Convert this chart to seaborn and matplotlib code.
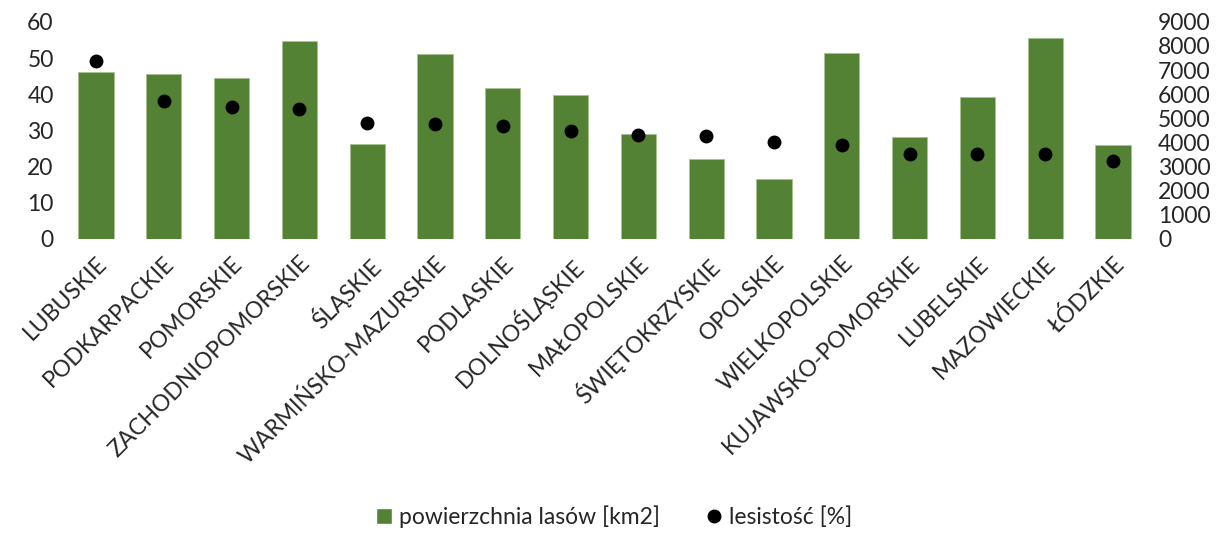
import pandas as pd
import matplotlib
matplotlib.use("Agg")
import matplotlib.pyplot as plt
from matplotlib.lines import Line2D
from matplotlib.patches import Patch
import seaborn as sns

# dane
wojewodztwa = ["LUBUSKIE", "PODKARPACKIE", "POMORSKIE", "ZACHODNIOPOMORSKIE", "ŚLĄSKIE",
               "WARMIŃSKO-MAZURSKIE", "PODLASKIE", "DOLNOŚLĄSKIE", "MAŁOPOLSKIE",
               "ŚWIĘTOKRZYSKIE", "OPOLSKIE", "WIELKOPOLSKIE", "KUJAWSKO-POMORSKIE",
               "LUBELSKIE", "MAZOWIECKIE", "ŁÓDZKIE"]
powierzchnia = [6920, 6820, 6670, 8190, 3950, 7680, 6240, 5950,
                4330, 3300, 2500, 7700, 4220, 5880, 8340, 3890]
lesistosc = [49.3, 38.2, 36.4, 35.8, 32.0, 31.7, 31.1, 29.9,
             28.6, 28.3, 26.7, 25.9, 23.5, 23.4, 23.4, 21.4]

df = pd.DataFrame({"woj": wojewodztwa, "pow": powierzchnia, "les": lesistosc})

sns.set_style("white")
plt.rcParams["font.family"] = ["Lato", "DejaVu Sans"]

green = "#548235"

fig = plt.figure(figsize=(12.28, 5.33), dpi=100)
ax = fig.add_axes([0.0505, 0.552, 0.8835, 0.407])
sns.barplot(data=df, x="woj", y="pow", color=green, width=0.52, ax=ax,
            edgecolor="#a9c18f", linewidth=0.6, saturation=1)
ax.set_ylim(0, 9000)
ax.set_yticks(range(0, 9001, 1000))

ax2 = ax.twinx()
sns.stripplot(data=df, x="woj", y="les", jitter=False, color="black", size=10, ax=ax2)
ax2.set_ylim(0, 60)
ax2.set_yticks(range(0, 61, 10))

# paski na prawej osi, punkty na lewej
ax.yaxis.tick_right()
ax2.yaxis.tick_left()

for a in (ax, ax2):
    for s in a.spines.values():
        s.set_visible(False)
    a.set_xlabel("")
    a.set_ylabel("")
    a.tick_params(length=0, labelsize=16.5, pad=6)

ax.tick_params(axis="y", pad=8)
ax.set_xlim(-0.5, len(wojewodztwa) - 0.5)
ax.set_xticks(range(len(wojewodztwa)))
ax.set_xticklabels(wojewodztwa, rotation=45, ha="right", rotation_mode="anchor", fontsize=16.5)
ax2.tick_params(axis="x", labelbottom=False)
ax.tick_params(axis="x", pad=10)

handles = [Patch(facecolor=green, label="powierzchnia lasów [km2]"),
           Line2D([], [], marker="o", color="black", linestyle="none", markersize=9,
                  label="lesistość [%]")]
fig.legend(handles=handles, loc="lower center", bbox_to_anchor=(0.5, -0.03), ncol=2,
           frameon=False, fontsize=16.5, handlelength=0.7, handleheight=0.7,
           handletextpad=0.3, columnspacing=2.0)

fig.savefig("out.png", dpi=100)
